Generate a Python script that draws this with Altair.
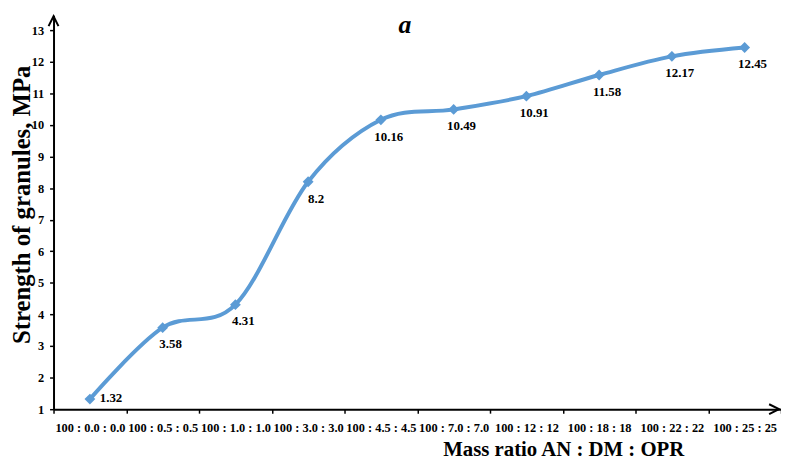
import altair as alt
import pandas as pd

categories = ["100 : 0.0 : 0.0", "100 : 0.5 : 0.5", "100 : 1.0 : 1.0", "100 : 3.0 : 3.0",
              "100 : 4.5 : 4.5", "100 : 7.0 : 7.0", "100 : 12 : 12", "100 : 18 : 18",
              "100 : 22 : 22", "100 : 25 : 25"]
strength = [1.32, 3.58, 4.31, 8.2, 10.16, 10.49, 10.91, 11.58, 12.17, 12.45]
labels = ["1.32", "3.58", "4.31", "8.2", "10.16", "10.49", "10.91", "11.58", "12.17", "12.45"]
y_ticks = list(range(1, 14))

df = pd.DataFrame({"ratio": categories, "strength": strength, "label": labels,
                   "idx": list(range(len(categories)))})

SERIF = "Liberation Serif"
BLUE = "#5B9BD5"

x_enc = alt.X("ratio:N", sort=categories,
              scale=alt.Scale(paddingInner=0, paddingOuter=0),
              axis=alt.Axis(title="Mass ratio AN : DM : OPR", labelAngle=0, tickBand="extent",
                            labelOverlap=False, labelFont=SERIF, labelFontSize=12.5,
                            labelFontWeight="bold", labelColor="black", labelPadding=9,
                            tickSize=4, tickColor="black", tickWidth=1.5,
                            domainColor="black", domainWidth=2,
                            titleFont=SERIF, titleFontSize=21, titleFontWeight="bold",
                            titleColor="black", titleX=515, titleY=47,
                            titleBaseline="alphabetic", titleAlign="center", grid=False))
y_enc = alt.Y("strength:Q",
              scale=alt.Scale(domain=[1, 13.47], nice=False, zero=False),
              axis=alt.Axis(title="Strength of granules, MPa", values=y_ticks, format="d",
                            labelOverlap=False, labelFlush=False, labelSeparation=0,
                            labelFont=SERIF, labelFontSize=12.5, labelFontWeight="bold",
                            labelColor="black", labelPadding=6, tickSize=4, tickColor="black",
                            tickWidth=1.5, domainColor="black", domainWidth=2,
                            titleFont=SERIF, titleFontSize=25, titleFontWeight="bold",
                            titleColor="black", titleX=-32, titleY=191, titleAngle=-90,
                            titleBaseline="middle", titleAlign="center", grid=False))

base = alt.Chart(df).encode(x=x_enc, y=y_enc)

line = base.mark_line(interpolate="cardinal", tension=0, color=BLUE, strokeWidth=4)
points = base.mark_point(shape="diamond", filled=True, color=BLUE, size=120, opacity=1)

first_label = base.transform_filter(alt.datum.idx == 0).mark_text(
    font=SERIF, fontSize=13, fontWeight="bold", color="black", align="left",
    baseline="middle", dx=10, dy=-1).encode(text="label:N")
other_labels = base.transform_filter(alt.datum.idx > 0).mark_text(
    font=SERIF, fontSize=13, fontWeight="bold", color="black", align="center",
    baseline="middle", dx=8, dy=17).encode(text="label:N")

deco = alt.Chart(pd.DataFrame({"k": [0]}))
up_arrow = deco.mark_point(shape="M-1,2L0,0L1,2", filled=False, stroke="black",
                           strokeWidth=2, size=100, opacity=1).encode(
    x=alt.value(0), y=alt.value(1))
right_arrow = deco.mark_point(shape="M-2,-1L0,0L-2,1", filled=False, stroke="black",
                              strokeWidth=2, size=100, opacity=1).encode(
    x=alt.value(733), y=alt.value(398))
panel_title = deco.mark_text(text="a", font=SERIF, fontSize=26, fontWeight="bold",
                             fontStyle="italic", color="black", align="center",
                             baseline="alphabetic").encode(
    x=alt.value(355), y=alt.value(18))

chart = alt.layer(line, points, first_label, other_labels, up_arrow, right_arrow,
                  panel_title).properties(
    width=735, height=398,
    autosize=alt.AutoSizeParams(type="none"),
    padding={"left": 46, "top": 5, "right": 0, "bottom": 51},
    background="white",
).configure_view(stroke=None)

chart.save("out.html", embed_options={"renderer": "svg", "actions": False})
